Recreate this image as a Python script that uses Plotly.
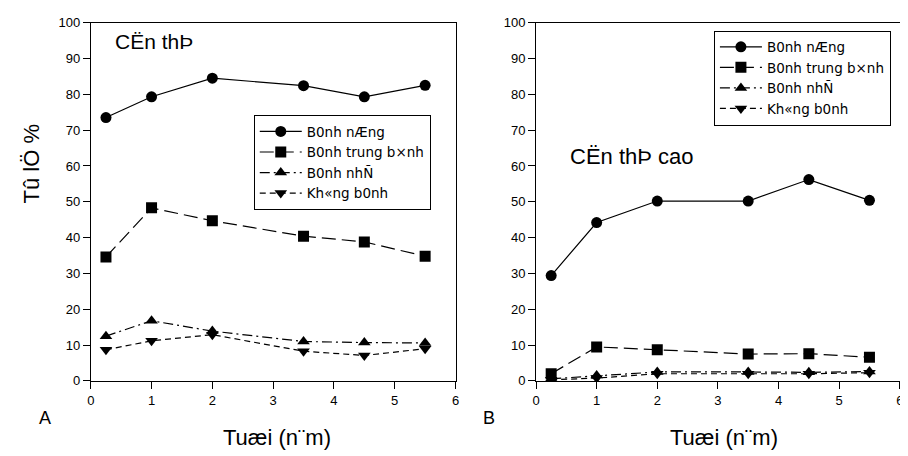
import plotly.graph_objects as go

ages = [0.25, 1, 2, 3.5, 4.5, 5.5]
series_names = ["B0nh nÆng", "B0nh trung b×nh", "B0nh nhÑ", "Kh«ng b0nh"]

# Panel A: CËn thÞ
a_nang = [73.5, 79.3, 84.5, 82.4, 79.3, 82.5]
a_trung = [34.6, 48.3, 44.7, 40.4, 38.8, 34.8]
a_nhe = [12.5, 16.8, 13.9, 11.0, 10.7, 10.6]
a_khong = [8.7, 11.2, 12.9, 8.3, 7.1, 9.0]

# Panel B: CËn thÞ cao
b_nang = [29.4, 44.2, 50.2, 50.2, 56.2, 50.4]
b_trung = [2.0, 9.5, 8.7, 7.5, 7.6, 6.6]
b_nhe = [0.6, 1.5, 2.5, 2.5, 2.4, 2.6]
b_khong = [0.3, 0.8, 2.0, 2.0, 2.0, 2.3]

x_ticks = [0, 1, 2, 3, 4, 5, 6]
y_ticks = list(range(0, 101, 10))

symbols = ["circle", "square", "triangle-up", "triangle-down"]
dashes = ["solid", "14px,6px", "10px,4px,2px,4px", "6px,4px"]

FONT = "Liberation Sans, Arial, sans-serif"
LFONT = "DejaVu Sans, sans-serif"

W, H = 908, 456
# mapping from window pixels to figure pixels (page offset / scale)
AX, BX = 8.75, 0.9973
AY, BY = 11.25, 0.9825


def fx(px):
    return ((px - AX) / BX) / W


def fy(py):
    return 1 - ((py - AY) / BY) / H


fig = go.Figure()

for data, xa, ya, lg in [
    ([a_nang, a_trung, a_nhe, a_khong], "x", "y", "legend"),
    ([b_nang, b_trung, b_nhe, b_khong], "x2", "y2", "legend2"),
]:
    for name, vals, sym, dash in zip(series_names, data, symbols, dashes):
        fig.add_trace(go.Scatter(
            x=ages, y=vals, name=name, mode="lines+markers",
            xaxis=xa, yaxis=ya, legend=lg,
            line=dict(color="black", width=1.2, dash=dash),
            marker=dict(symbol=sym, size=11, color="black"),
        ))

axis_common = dict(
    showgrid=False, zeroline=False, showline=True, linecolor="black",
    linewidth=1, mirror=True, ticks="outside", ticklen=7, tickcolor="black",
    tickfont=dict(family=FONT, size=13, color="black"),
)

ydom = [fy(383), fy(19)]
legend_common = dict(xanchor="left", yanchor="top",
                     bordercolor="black", borderwidth=1, bgcolor="white",
                     font=dict(family=LFONT, size=13.5, color="black"),
                     tracegroupgap=0, itemwidth=42)

fig.update_layout(
    width=W, height=H,
    margin=dict(l=0, r=0, t=0, b=0),
    paper_bgcolor="white", plot_bgcolor="white",
    font=dict(family=FONT, color="black"),
    xaxis=dict(domain=[fx(88), fx(455)], range=[0, 6], tickvals=x_ticks, anchor="y", **axis_common),
    yaxis=dict(domain=ydom, range=[0, 100], tickvals=y_ticks, anchor="x", **axis_common),
    xaxis2=dict(domain=[fx(536), fx(902)], range=[0, 6], tickvals=x_ticks, anchor="y2", **axis_common),
    yaxis2=dict(domain=ydom, range=[0, 100], tickvals=y_ticks, anchor="x2", **axis_common),
    legend=dict(x=fx(252), y=fy(113), **legend_common),
    legend2=dict(x=fx(715), y=fy(27), **legend_common),
    showlegend=True,
)

annotations = [
    ("CËn thÞ", 110, 38, "left", 21),
    ("CËn thÞ cao", 568, 155, "left", 22),
    ("Tuæi (n¨m)", 275, 440, "center", 22),
    ("Tuæi (n¨m)", 725, 440, "center", 22),
    ("A", 42, 421, "center", 18),
    ("B", 489, 421, "center", 18),
]
for text, x, y, xanchor, size in annotations:
    fig.add_annotation(text=text, x=fx(x), y=fy(y), xref="paper", yref="paper",
                       xanchor=xanchor, yanchor="middle", showarrow=False,
                       font=dict(family=FONT, size=size, color="black"))

fig.add_annotation(text="Tû lÖ %", x=fx(28), y=fy(163), xref="paper", yref="paper",
                   textangle=-90, showarrow=False, xanchor="center", yanchor="middle",
                   font=dict(family=FONT, size=22, color="black"))

fig.write_html("out.html")
